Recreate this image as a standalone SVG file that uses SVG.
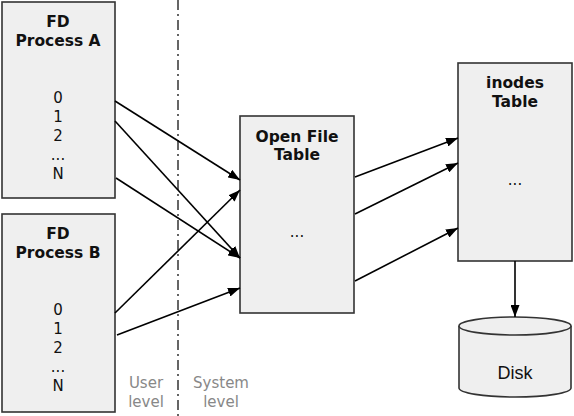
<svg xmlns="http://www.w3.org/2000/svg" width="574" height="416" viewBox="0 0 574 416">
<defs>
<style>
.box{fill:#efefef;stroke:#333;stroke-width:1.6}
.t{font-family:"DejaVu Sans",Verdana,sans-serif;font-size:15px;fill:#111;text-anchor:middle}
.b{font-weight:bold;font-size:15.5px}
.g{font-family:"DejaVu Sans",Verdana,sans-serif;font-size:15px;fill:#888;text-anchor:middle}
.c{stroke:#000;stroke-width:1.6;fill:none;marker-end:url(#ah)}
</style>
<marker id="ah" markerWidth="12" markerHeight="9" refX="12" refY="4.5" orient="auto" markerUnits="userSpaceOnUse">
<path d="M0,0 L12,4.5 L0,9 z" fill="#000"/>
</marker>
</defs>
<rect width="574" height="416" fill="#fff"/>
<line x1="178" y1="0" x2="178" y2="416" stroke="#333" stroke-width="1.5" stroke-dasharray="10,4,2,4"/>
<g id="procA">
<rect class="box" x="2" y="2" width="113" height="196"/>
<text class="t b" x="58" y="27">FD</text>
<text class="t b" x="58" y="46">Process A</text>
<text class="t" x="58" y="103">0</text>
<text class="t" x="58" y="122">1</text>
<text class="t" x="58" y="141">2</text>
<text class="t" x="58" y="160">...</text>
<text class="t" x="58" y="179">N</text>
</g>
<g id="procB">
<rect class="box" x="2" y="214" width="113" height="198"/>
<text class="t b" x="58" y="239">FD</text>
<text class="t b" x="58" y="258">Process B</text>
<text class="t" x="58" y="315">0</text>
<text class="t" x="58" y="334">1</text>
<text class="t" x="58" y="353">2</text>
<text class="t" x="58" y="372">...</text>
<text class="t" x="58" y="391">N</text>
</g>
<g id="openfile">
<rect class="box" x="240" y="116" width="114" height="197"/>
<text class="t b" x="297" y="142">Open File</text>
<text class="t b" x="297" y="160">Table</text>
<text class="t" x="297" y="237">...</text>
</g>
<g id="inodes">
<rect class="box" x="458" y="63" width="114" height="198"/>
<text class="t b" x="515" y="88">inodes</text>
<text class="t b" x="515" y="107">Table</text>
<text class="t" x="515" y="185">...</text>
</g>
<g id="disk">
<path class="box" d="M459,326 L459,388 A56,9 0 0 0 571,388 L571,326"/>
<ellipse class="box" cx="515" cy="326" rx="56" ry="9"/>
<text x="515" y="379" font-family="'Liberation Sans',Arial,sans-serif" font-size="18" fill="#111" text-anchor="middle">Disk</text>
</g>
<g id="labels">
<text class="g" x="146" y="388">User</text>
<text class="g" x="146" y="407">level</text>
<text class="g" x="221" y="388">System</text>
<text class="g" x="221" y="407">level</text>
</g>
<g id="connectors">
<line class="c" x1="115" y1="101" x2="240" y2="180"/>
<line class="c" x1="115" y1="121" x2="240" y2="258"/>
<line class="c" x1="116" y1="178" x2="240" y2="258"/>
<line class="c" x1="115" y1="313" x2="240" y2="190"/>
<line class="c" x1="117" y1="335" x2="240" y2="288"/>
<line class="c" x1="355" y1="177" x2="458" y2="138"/>
<line class="c" x1="355" y1="214" x2="458" y2="163"/>
<line class="c" x1="355" y1="281" x2="458" y2="228"/>
<line class="c" x1="515" y1="261" x2="515" y2="317"/>
</g>
</svg>
